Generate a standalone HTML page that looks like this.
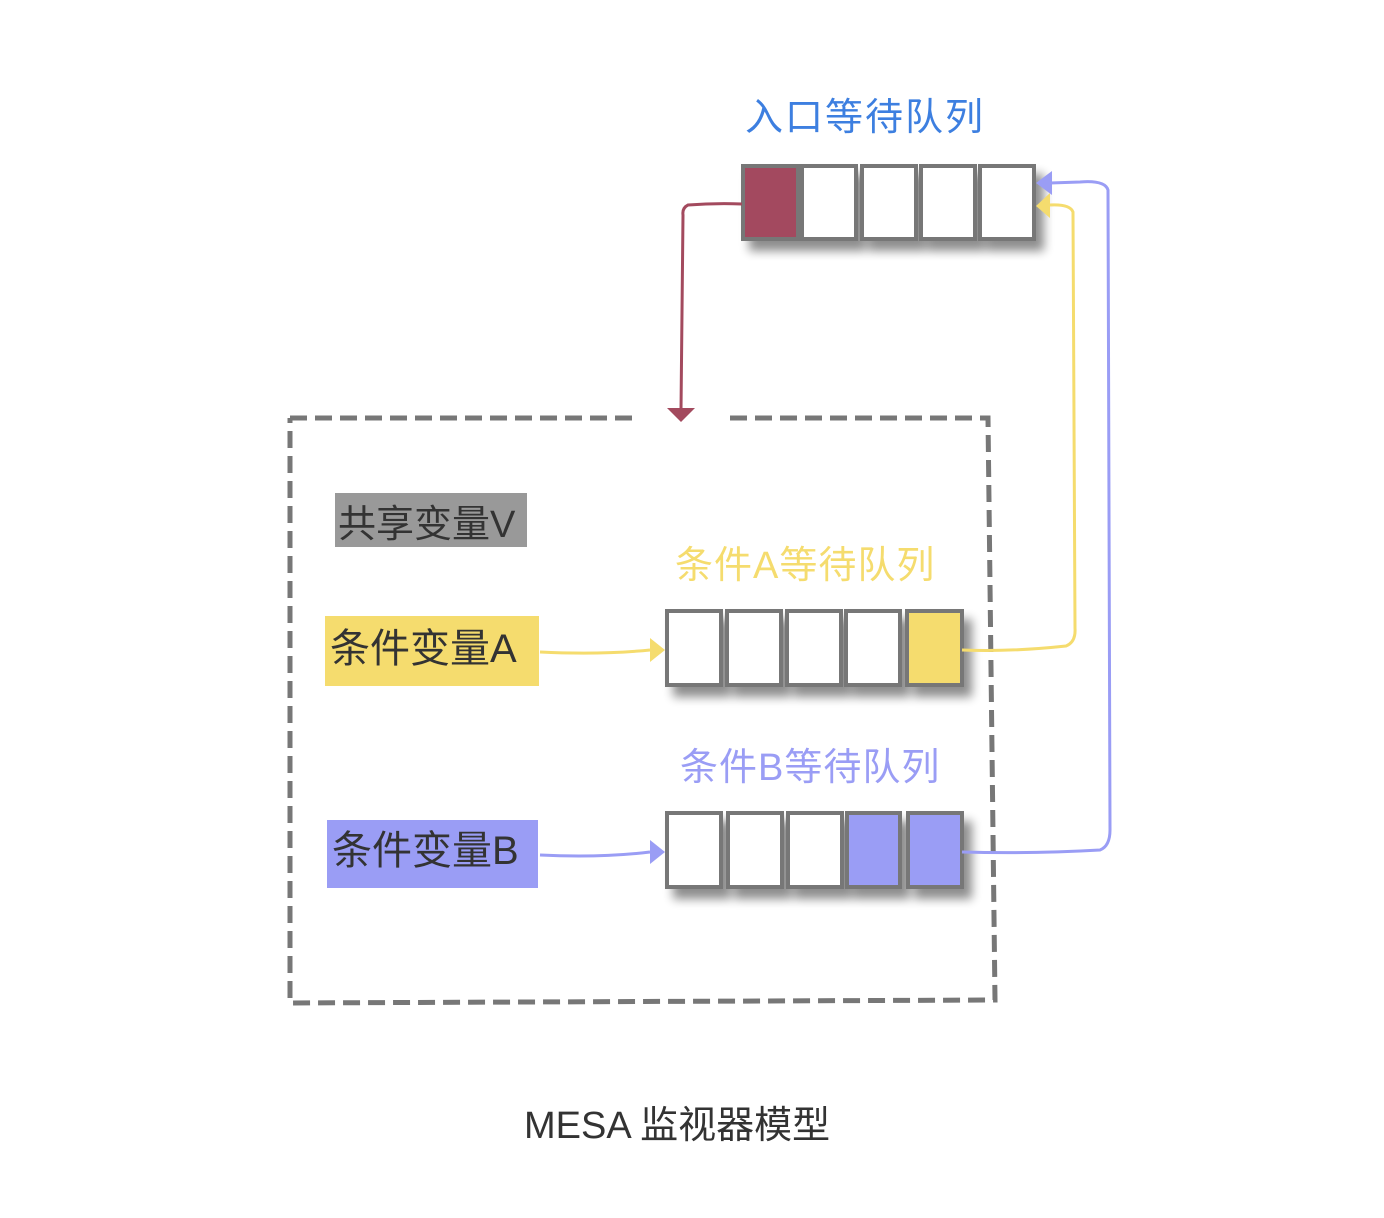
<!DOCTYPE html>
<html><head><meta charset="utf-8"><style>
html,body{margin:0;padding:0;background:#fff;}
svg{display:block;}
text{font-family:"Liberation Sans","Noto Sans CJK SC",sans-serif;}
</style></head><body>
<svg width="1384" height="1218" viewBox="0 0 1384 1218" xmlns="http://www.w3.org/2000/svg">
<defs>
<filter id="sh" x="-30%" y="-30%" width="160%" height="160%">
<feGaussianBlur in="SourceAlpha" stdDeviation="5"/>
<feOffset dx="8" dy="10"/>
<feComponentTransfer><feFuncA type="linear" slope="0.45"/></feComponentTransfer>
<feMerge><feMergeNode/><feMergeNode in="SourceGraphic"/></feMerge>
</filter>
</defs>

<!-- dashed monitor box -->
<path d="M290,418 L640,418 M730,418 L988,418 L995,1000 L290,1003 L290,418" fill="none" stroke="#777" stroke-width="5" stroke-dasharray="17,8"/>

<!-- title -->
<text x="745" y="130" font-size="38" fill="#3d7fe0" letter-spacing="2">入口等待队列</text>

<!-- top queue -->
<g filter="url(#sh)" stroke="#777" stroke-width="4">
<rect x="743" y="166" width="55" height="73" fill="#a34a5e"/>
<rect x="802" y="166" width="54" height="73" fill="#fff"/>
<rect x="862" y="166" width="54" height="73" fill="#fff"/>
<rect x="921" y="166" width="54" height="73" fill="#fff"/>
<rect x="980" y="166" width="54" height="73" fill="#fff"/>
</g>

<!-- red connector -->
<path d="M742,204 Q715,203 688,205 Q682,208 683,215 L681,410" fill="none" stroke="#a34a5e" stroke-width="3"/>
<polygon points="667,408 695,408 681,422" fill="#a34a5e"/>

<!-- shared var -->
<rect x="335" y="493" width="192" height="54" fill="#999"/>
<text x="338" y="537" font-size="38" fill="#333">共享变量V</text>

<!-- cond A -->
<text x="675" y="578" font-size="38" fill="#f5dc6e" letter-spacing="1">条件A等待队列</text>
<rect x="325" y="616" width="214" height="70" fill="#f5dc6e"/>
<text x="330" y="662" font-size="40" fill="#333">条件变量A</text>
<path d="M540,652 Q600,655 650,650" fill="none" stroke="#f5dc6e" stroke-width="3"/>
<polygon points="650,638 665,650 650,662" fill="#f5dc6e"/>
<g filter="url(#sh)" stroke="#777" stroke-width="4">
<rect x="667" y="611" width="54" height="74" fill="#fff"/>
<rect x="727" y="611" width="54" height="74" fill="#fff"/>
<rect x="787" y="611" width="54" height="74" fill="#fff"/>
<rect x="846" y="611" width="54" height="74" fill="#fff"/>
<rect x="907" y="611" width="55" height="74" fill="#f5dc6e"/>
</g>

<!-- cond B -->
<text x="680" y="780" font-size="38" fill="#9a9df5" letter-spacing="1">条件B等待队列</text>
<rect x="327" y="820" width="211" height="68" fill="#9a9df5"/>
<text x="332" y="864" font-size="40" fill="#333">条件变量B</text>
<path d="M540,855 Q600,858 650,852" fill="none" stroke="#9a9df5" stroke-width="3"/>
<polygon points="650,840 665,852 650,864" fill="#9a9df5"/>
<g filter="url(#sh)" stroke="#777" stroke-width="4">
<rect x="667" y="813" width="54" height="74" fill="#fff"/>
<rect x="728" y="813" width="54" height="74" fill="#fff"/>
<rect x="788" y="813" width="54" height="74" fill="#fff"/>
<rect x="847" y="813" width="53" height="74" fill="#9a9df5"/>
<rect x="908" y="813" width="54" height="74" fill="#9a9df5"/>
</g>

<!-- yellow return -->
<path d="M962,650 Q1010,652 1066,646 Q1076,642 1075,628 L1073,212 Q1070,204 1050,205" fill="none" stroke="#f5dc6e" stroke-width="3"/>
<polygon points="1050,193 1036,206 1050,218" fill="#f5dc6e"/>
<!-- blue return -->
<path d="M962,852 Q1030,854 1100,850 Q1110,846 1110,830 L1108,190 Q1105,180 1080,182 L1050,183" fill="none" stroke="#9a9df5" stroke-width="3"/>
<polygon points="1052,171 1036,183 1052,195" fill="#9a9df5"/>

<!-- caption -->
<text x="524" y="1138" font-size="38" fill="#333">MESA 监视器模型</text>
</svg>
</body></html>
